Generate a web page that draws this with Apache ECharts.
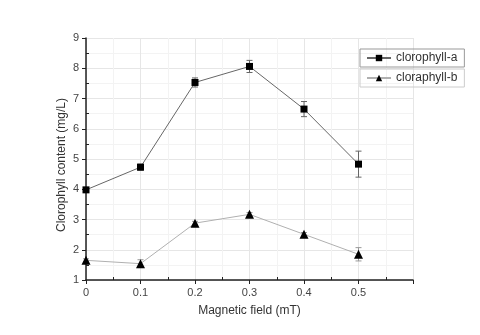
<!DOCTYPE html>
<html><head><meta charset="utf-8">
<script src="https://cdn.jsdelivr.net/npm/echarts@6/dist/echarts.min.js"></script>
<style>html,body{margin:0;padding:0;background:#fff}#c{width:480px;height:335px}</style>
</head><body><div id="c"></div>
<script>
var fields = [0, 0.1, 0.2, 0.3, 0.4, 0.5];
var chlA = [3.98, 4.73, 7.53, 8.06, 6.65, 4.83];
var errA = [0.05, 0.1, 0.15, 0.2, 0.25, 0.43];
var chlB = [1.65, 1.54, 2.88, 3.17, 2.51, 1.85];
var errB = [0.05, 0.13, 0.06, 0.06, 0.06, 0.22];
var xTicks = ['0', '0.1', '0.2', '0.3', '0.4', '0.5'];
var nameA = 'clorophyll-a', nameB = 'cloraphyll-b';

function pairs(v){ return fields.map(function(x,i){return [x, v[i]];}); }
function errData(v,e){ return fields.map(function(x,i){return [x, v[i]-e[i], v[i]+e[i]];}); }
function errRender(color){
  return function(params, api){
    var lo = api.coord([api.value(0), api.value(1)]);
    var hi = api.coord([api.value(0), api.value(2)]);
    var w = 3;
    var st = {stroke: color, lineWidth: 1};
    return {type:'group', children:[
      {type:'line', shape:{x1:lo[0],y1:lo[1],x2:hi[0],y2:hi[1]}, style:st},
      {type:'line', shape:{x1:lo[0]-w,y1:lo[1],x2:lo[0]+w,y2:lo[1]}, style:st},
      {type:'line', shape:{x1:hi[0]-w,y1:hi[1],x2:hi[0]+w,y2:hi[1]}, style:st}
    ]};
  };
}
var font = 'Liberation Sans, Arial, sans-serif';
var chart = echarts.init(document.getElementById('c'));
chart.setOption({
  animation:false,
  textStyle:{fontFamily:font},
  grid:{left:86, right:67, top:38, bottom:55, containLabel:false},
  legend:[
    {data:[nameA], left:360, top:49, width:99, itemWidth:24, itemHeight:8, itemGap:0,
     borderColor:'#999', borderWidth:1, padding:[3,7,3,6], borderRadius:0,
     textStyle:{fontSize:12, color:'#333', fontFamily:font}},
    {data:[nameB], left:360, top:69, width:99, itemWidth:24, itemHeight:8, itemGap:0,
     borderColor:'#ccc', borderWidth:1, padding:[3,7,3,6], borderRadius:0,
     textStyle:{fontSize:12, color:'#333', fontFamily:font}}
  ],
  xAxis:[{
    type:'value', min:0, max:0.6, interval:0.1,
    name:'Magnetic field (mT)', nameLocation:'middle', nameGap:25,
    nameTextStyle:{fontSize:12, color:'#333', fontFamily:font},
    axisLine:{lineStyle:{color:'#222', width:1.5}},
    axisTick:{show:true, length:4, lineStyle:{color:'#222'}},
    axisLabel:{fontSize:11, color:'#444', margin:7,
      formatter:function(v){ var i=Math.round(v*10); return i<xTicks.length? xTicks[i] : ''; }},
    splitLine:{show:true, lineStyle:{color:'#e6e6e6'}},
    minorTick:{show:false, splitNumber:2}, minorSplitLine:{show:true, lineStyle:{color:'#f3f3f3'}}
  },{
    type:'value', min:0, max:0.6, interval:0.05, position:'bottom',
    axisLine:{show:false}, axisLabel:{show:false}, splitLine:{show:false},
    axisTick:{show:true, inside:true, length:3, lineStyle:{color:'#222'},
      customValues:[0.05,0.15,0.25,0.35,0.45,0.55]}
  }],
  yAxis:[{
    type:'value', min:1, max:9, interval:1,
    name:'Clorophyll content (mg/L)', nameLocation:'middle', nameGap:18, nameRotate:90,
    nameMoveOverlap:false,
    nameTextStyle:{fontSize:12, color:'#333', fontFamily:font, padding:[0,0,0,-12]},
    axisLine:{show:true, lineStyle:{color:'#222', width:1.5}},
    axisTick:{show:true, length:4, lineStyle:{color:'#222'}},
    axisLabel:{fontSize:11, color:'#444', margin:7},
    splitLine:{show:true, lineStyle:{color:'#e6e6e6'}},
    minorTick:{show:false, splitNumber:2},
    minorSplitLine:{show:true, lineStyle:{color:'#f3f3f3'}}
  },{
    type:'value', min:1, max:9, interval:0.5, position:'left',
    axisLine:{show:false}, axisLabel:{show:false}, splitLine:{show:false},
    axisTick:{show:true, inside:true, length:3, lineStyle:{color:'#222'},
      customValues:[1.5,2.5,3.5,4.5,5.5,6.5,7.5,8.5]}
  }],
  series:[
    {type:'custom', xAxisIndex:0, yAxisIndex:0, renderItem:errRender('#666'), data:errData(chlA,errA), silent:true, z:1},
    {type:'custom', xAxisIndex:0, yAxisIndex:0, renderItem:errRender('#999'), data:errData(chlB,errB), silent:true, z:1},
    {name:nameA, type:'line', data:pairs(chlA), symbol:'rect', symbolSize:7,
     lineStyle:{color:'#666', width:1}, itemStyle:{color:'#000'}, color:'#666', z:3},
    {name:nameB, type:'line', data:pairs(chlB), symbol:'triangle', symbolSize:9,
     lineStyle:{color:'#b0b0b0', width:1}, itemStyle:{color:'#000'}, color:'#b0b0b0', z:3}
  ]
});
</script></body></html>
